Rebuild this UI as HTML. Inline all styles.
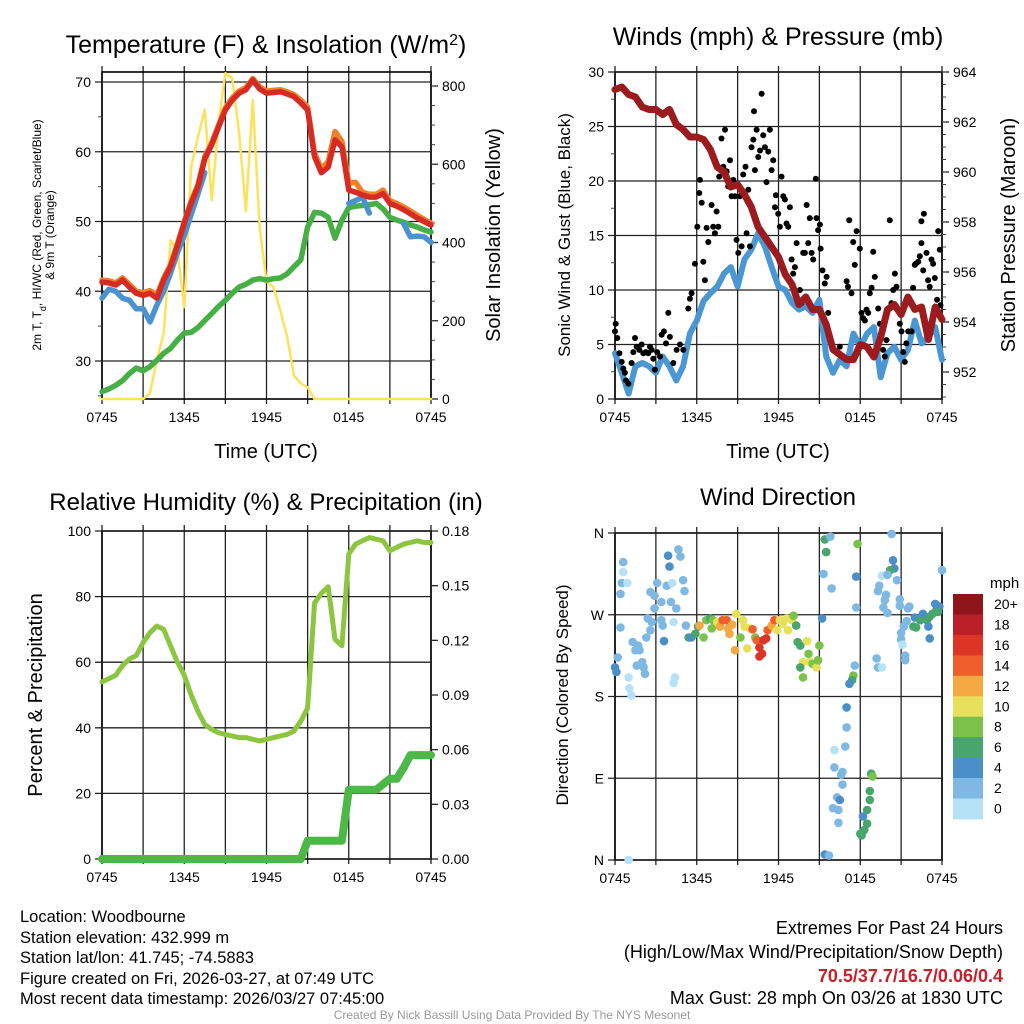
<!DOCTYPE html>
<html><head><meta charset="utf-8"><title>Woodbourne Meteogram</title>
<style>
html,body{margin:0;padding:0;background:#fff;}
svg{display:block;font-family:"Liberation Sans",Arial,sans-serif;}
</style></head>
<body>
<svg id="chart" width="1024" height="1024" viewBox="0 0 1024 1024" xmlns="http://www.w3.org/2000/svg">
<rect x="0" y="0" width="1024" height="1024" fill="#fff"/>
<text x="266" y="53" font-size="25" text-anchor="middle">Temperature (F) &amp; Insolation (W/m<tspan baseline-shift="super" font-size="16">2</tspan>)</text>
<text x="778" y="45" font-size="25" text-anchor="middle">Winds (mph) &amp; Pressure (mb)</text>
<text x="266" y="510" font-size="24" text-anchor="middle">Relative Humidity (%) &amp; Precipitation (in)</text>
<text x="778" y="505" font-size="24" text-anchor="middle">Wind Direction</text>

<text x="266" y="458" font-size="20" text-anchor="middle">Time (UTC)</text>
<text x="778" y="458" font-size="20" text-anchor="middle">Time (UTC)</text>

<text transform="translate(41,235) rotate(-90)" font-size="12" text-anchor="middle">2m T, T<tspan baseline-shift="sub" font-size="9">d</tspan>, HI/WC (Red, Green, Scarlet/Blue)</text>
<text transform="translate(54,235) rotate(-90)" font-size="12" text-anchor="middle">&amp; 9m T (Orange)</text>
<text transform="translate(500,235) rotate(-90)" font-size="20" text-anchor="middle">Solar Insolation (Yellow)</text>
<text transform="translate(570,235) rotate(-90)" font-size="17" text-anchor="middle">Sonic Wind &amp; Gust (Blue, Black)</text>
<text transform="translate(1015,235) rotate(-90)" font-size="20" text-anchor="middle">Station Pressure (Maroon)</text>
<text transform="translate(42,695) rotate(-90)" font-size="20" text-anchor="middle">Percent &amp; Precipitation</text>
<text transform="translate(568,695) rotate(-90)" font-size="17" text-anchor="middle">Direction (Colored By Speed)</text>

<g font-size="16.5">
<text x="20" y="922">Location: Woodbourne</text>
<text x="20" y="943">Station elevation: 432.999 m</text>
<text x="20" y="963">Station lat/lon: 41.745; -74.5883</text>
<text x="20" y="984">Figure created on Fri, 2026-03-27, at 07:49 UTC</text>
<text x="20" y="1004">Most recent data timestamp: 2026/03/27 07:45:00</text>
</g>
<g font-size="18" text-anchor="end">
<text x="1003" y="934">Extremes For Past 24 Hours</text>
<text x="1003" y="958">(High/Low/Max Wind/Precipitation/Snow Depth)</text>
<text x="1003" y="982" fill="#c8202a" font-weight="bold">70.5/37.7/16.7/0.06/0.4</text>
<text x="1003" y="1004">Max Gust: 28 mph On 03/26 at 1830 UTC</text>
</g>
<text x="512" y="1019" font-size="12" fill="#999" text-anchor="middle">Created By Nick Bassill Using Data Provided By The NYS Mesonet</text>
<g id="plots"></g>
</svg>
<script>
// ---- Data (half-hour steps from 0745 UTC, 0..24 h) ----
const xTickLabels = ["0745","1345","1945","0145","0745"];
const tempRed = [41.3,41.2,40.9,41.6,40.6,39.7,39.4,39.7,39.0,41.6,43.5,46.5,49.8,52.6,55,59,61,63.5,66,67.4,68.4,68.9,70.3,69,68.4,68.5,68.6,68.3,67.9,67,66,59.3,57,57.8,61.7,60.7,54.5,54.2,53.8,53.5,53.5,54,52.6,52.2,51.7,51.1,50.5,50,49.5];
const tempOrange = [41.6,41.5,41.2,41.9,41.0,40.0,39.8,40.1,39.4,41.9,43.8,46.8,50.0,52.9,55.3,59.3,61.3,63.8,66.3,67.7,68.7,69.2,70.5,69.3,68.7,68.8,68.9,68.6,68.2,67.4,66.4,59.8,57.6,58.6,62.9,61.5,55.5,55.6,54.2,53.9,53.9,54.5,53.0,52.6,52.1,51.5,50.9,50.3,49.8];
const tempBlue = [39,40.3,40,39,38.7,37.5,37.5,35.6,38,40,42.6,45.5,48,51,54,57,null,null,null,null,null,null,null,null,null,null,null,null,null,null,null,null,null,null,null,null,52.6,53,53.5,51.2,null,null,null,null,49.7,47.8,47.9,47.8,47];
const dewGreen = [25.6,26.0,26.5,27.2,28.2,29.0,28.6,29.2,30.1,31.1,31.8,33.0,34.0,34.1,34.8,35.8,36.8,37.8,38.7,39.7,40.6,41.0,41.6,41.8,41.6,41.8,41.9,42.5,43.5,44.5,49.2,51.3,51.2,50.6,47.6,50.2,52.0,52.2,52.3,52.4,52.6,51.8,50.6,50.2,49.9,49.5,49.2,48.8,48.5];
const solar = [0,0,0,0,0,0,0,15,100,168,406,380,235,593,670,740,508,705,833,820,680,480,764,440,300,286,228,160,60,40,30,0,0,0,0,0,0,0,0,0,0,0,0,0,0,0,0,0,0];
const windSpeed = [4.2,2.4,0.5,3,3.3,3,2.4,3.9,3,1.7,3,6,7.2,9,9.7,10.3,11.5,12.1,10.3,12.8,13.7,15.2,14,12.1,10.3,10,8.8,8.2,8.5,7.9,9.1,3.9,2.4,3.6,3,6,4.8,6,6.6,2,4.2,4.8,3.6,4.5,7.2,5.1,5.7,6.6,3.6];
const pressure = [963.3,963.4,963.1,963.0,962.6,962.5,962.5,962.3,962.5,961.9,961.7,961.4,961.4,961.3,960.9,960.2,960.0,959.4,959.5,959.1,958.6,957.8,957.4,957.0,956.6,955.9,955.5,954.7,955.0,954.5,954.5,953.9,952.9,952.7,952.5,952.5,953.1,953.0,952.6,953.4,954.5,954.7,954.3,955.0,954.5,954.6,953.3,954.6,954.1];
const gustHours = [0,0.05,0.17,0.32,0.49,0.61,0.73,0.81,0.98,1.22,1.34,1.47,1.59,1.78,1.96,2.08,2.27,2.44,2.57,2.69,2.81,2.93,3.1,3.3,3.42,3.59,3.74,3.91,4.03,4.28,4.52,4.77,5.01,5.38,5.5,5.62,5.87,6.04,6.19,6.23,6.36,6.48,6.6,6.72,6.85,7.09,7.21,7.33,7.46,7.58,7.65,7.82,7.95,8.07,8.19,8.31,8.44,8.56,8.68,8.8,8.92,9.05,9.17,9.29,9.41,9.58,9.66,9.78,9.9,10.02,10.15,10.2,10.27,10.39,10.51,10.64,10.76,10.88,11.0,11.12,11.25,11.37,11.49,11.61,11.74,11.81,11.98,12.1,12.22,12.35,12.47,12.59,12.71,12.84,12.96,13.08,13.2,13.33,13.57,13.69,13.81,13.94,14.06,14.18,14.3,14.43,14.55,14.74,14.79,14.91,15.04,15.09,15.23,15.4,15.53,15.65,16.5,17.0,17.1,17.19,17.36,17.48,17.6,17.73,17.97,18.09,18.22,18.34,18.46,18.58,18.7,18.83,18.95,19.07,19.32,19.44,19.68,19.8,19.93,20.17,20.29,20.42,20.54,20.66,20.9,21.03,21.15,21.27,21.39,21.52,21.76,21.88,22.0,22.08,22.25,22.37,22.49,22.49,22.62,22.67,22.86,22.98,23.1,23.23,23.35,23.47,23.64,23.72,23.84,23.89];
const gustMph = [6.2,6.9,5.6,4.2,3.4,2.8,2.4,1.7,1.4,3.3,4.3,5.6,4.8,4.5,5.0,4.2,4.3,4.2,4.8,4.5,3.7,2.7,4.3,3.9,5.9,6.2,5.1,7.9,5.7,3.3,4.5,5.0,4.5,8.3,9.2,9.7,12.4,15.8,18.9,20.1,18.0,12.6,10.9,15.7,14.4,17.8,15.8,15.2,17.2,15.8,20.4,23.9,21.3,24.7,20.9,19.5,21.9,18.6,20.1,18.6,14.6,13.4,18.6,14.0,20.6,21.3,15.2,19.2,14.0,23.1,23.8,26.4,21.0,24.7,22.2,22.8,28.0,24.2,23.1,19.9,22.7,24.7,21.0,21.9,17.6,18.7,17.0,15.8,20.4,18.6,18.3,16.1,15.8,17.6,12.8,11.5,12.1,14.3,10.0,8.8,13.4,13.4,17.8,14.3,16.6,13.4,12.8,20.2,16.6,15.5,16.0,13.8,11.8,10.6,11.2,7.9,4.8,10.8,10.3,16.4,9.7,14.4,12.3,15.4,13.8,7.9,7.4,7.2,8.2,7.9,9.7,10.2,13.5,11.2,8.3,6.9,4.5,3.9,5.4,16.4,8.8,10.0,11.5,10.3,6.9,6.2,4.3,3.4,5.1,6.2,6.2,10.2,12.3,12.4,12.6,13.1,16.3,14.3,11.8,17.0,13.4,10.9,10.3,12.8,12.4,11.1,9.1,15.4,13.7,8.6];
const relHum = [54,55,56,59,61,62,66,69,71,70,65,60,56,50,45,41,39.5,38.5,38,37.5,37,37,36.5,36,36.5,37,37.5,38,39,42,46,78,81,83,67,65,93,96,97,98,97.5,97,94,95,96,96.5,97,96.5,96.5];
const precip = [0,0,0,0,0,0,0,0,0,0,0,0,0,0,0,0,0,0,0,0,0,0,0,0,0,0,0,0,0,0,0.01,0.01,0.01,0.01,0.01,0.01,0.038,0.038,0.038,0.038,0.038,0.041,0.044,0.044,0.05,0.057,0.057,0.057,0.057];
// wind direction observations: [hour, degrees, mph]
const dirObs = [[0.0,212,5],[0.1,207,5],[0.2,223,3],[0.4,256,3],[0.6,328,3],[0.6,317,1],[0.5,305,3],[0.9,305,1],[0.4,293,3],[1.0,201,1],[1.05,189,1],[1.2,181,1],[1.0,0,1],[1.3,240,3],[1.7,236,3],[1.8,231,3],[1.5,231,3],[1.6,214,3],[2.0,218,3],[2.2,205,3],[2.1,212,3],[2.3,245,3],[2.6,253,3],[2.4,266,3],[2.7,262,3],[2.9,277,3],[2.6,295,3],[2.9,291,3],[3.1,305,3],[3.4,284,3],[3.4,264,3],[3.5,258,3],[3.6,241,5],[3.9,335,5],[4.0,323,5],[3.8,302,3],[4.1,284,3],[4.2,305,1],[4.3,262,1],[4.4,201,1],[4.3,195,1],[4.65,342,3],[4.8,334,3],[5.0,308,3],[5.1,296,3],[4.5,277,3],[5.2,258,3],
[5.4,245,7],[5.6,245,5],[5.9,249,7],[6.1,257,7],[6.2,258,13],[6.5,245,9],[6.7,264,9],[7.0,266,7],[7.2,264,9],[7.1,255,9],[7.5,262,11],[7.7,257,13],[7.9,264,15],[8.2,264,15],[8.3,255,13],[8.6,259,13],[8.4,249,13],[8.8,231,13],[8.9,271,11],[9.2,245,9],[9.4,264,11],[9.7,233,11],[9.5,257,11],[9.9,255,11],[10.1,254,15],[10.3,245,9],[10.4,242,15],[10.6,234,17],[10.9,242,17],[11.1,244,17],[10.8,227,17],[10.6,224,17],[11.2,253,15],[11.5,258,13],[11.7,264,15],[11.9,253,11],[12.1,264,11],[12.3,260,11],[12.6,266,11],[12.7,253,11],[13.0,264,11],[13.1,269,9],[13.3,258,7],[13.4,240,7],[13.6,236,7],[14.1,241,11],[13.8,218,11],[14.2,227,9],[14.3,218,11],[14.5,216,9],[14.8,212,11],[14.9,220,9],[15.0,236,9],[13.6,212,7],[13.8,201,9],
[15.4,353,7],[15.8,356,3],[15.5,339,7],[15.3,315,3],[15.9,299,3],[15.2,266,5],[17.7,312,5],[17.8,348,9],[17.7,278,3],[17.6,214,3],[17.5,203,9],[17.4,198,7],[17.2,194,5],[17.0,168,5],[17.0,146,3],[16.9,125,3],[16.1,121,1],[16.1,102,3],[16.7,97,3],[16.6,94,3],[16.7,83,3],[16.3,69,3],[16.5,66,5],[16.0,57,3],[16.4,55,3],[16.4,41,3],[15.4,6,5],[15.7,5,3],[18.8,95,7],[18.9,92,9],[18.7,76,7],[18.7,66,7],[18.5,55,7],[18.2,48,5],[18.5,40,7],[18.3,33,7],[18.1,27,7],[18.0,29,7],
[20.3,359,3],[20.4,330,5],[20.5,321,5],[20.2,319,7],[19.6,313,1],[20.0,314,3],[20.7,308,3],[19.4,302,3],[19.3,296,3],[19.9,292,3],[19.8,286,3],[20.9,287,3],[19.7,278,3],[20.0,272,3],[20.9,280,3],[21.6,279,3],[21.5,277,3],[22.0,267,5],[21.4,263,3],[21.2,257,3],[21.0,250,3],[21.0,243,3],[21.1,237,1],[21.3,225,3],[21.3,220,3],[19.2,222,3],[19.3,212,3],[19.6,212,1],[21.9,257,7],[22.1,256,7],[22.4,264,7],[22.6,271,5],[22.9,264,7],[23.1,268,7],[23.0,257,5],[23.1,244,5],[23.3,271,7],[23.6,275,7],[23.5,282,5],[23.8,279,5],[24.0,319,3],[23.7,273,7]];
const speedBins = ["20+","18","16","14","12","10","8","6","4","2","0"];
const speedColors = ["#8e1519","#bb1f27","#dc3526","#ef5f2c","#f5a942","#e6e05a","#7bc24a","#48a56e","#4a8fc7","#7fb8e3","#b5e2f7"];

const NS = "http://www.w3.org/2000/svg";
const root = document.getElementById("plots");
function mk(tag, attrs, parent){
  const e = document.createElementNS(NS, tag);
  for (const k in attrs) e.setAttribute(k, attrs[k]);
  (parent || root).appendChild(e);
  return e;
}
function scale(d0,d1,r0,r1){ return v => r0 + (v-d0)*(r1-r0)/(d1-d0); }

function panelFrame(p, name){
  const g = mk("g", {});
  
  
  for (let h=0; h<=24; h+=3){
    const x = p.x(h);
    const l = mk("line",{x1:x,x2:x,y1:p.y0-6,y2:p.y1+5,stroke:"#222","stroke-width":1.3},g);
    
    
  }
  for (let i=0;i<xTickLabels.length;i++){
    const t = mk("text",{x:p.x(i*6),y:p.y1+23,"font-size":14,"text-anchor":"middle"},g);
    t.textContent = xTickLabels[i];
    
    
  }
  const fr = mk("rect",{x:p.x0,y:p.y0,width:p.x1-p.x0,height:p.y1-p.y0,fill:"none",stroke:"#000","stroke-width":1.6},g);
  
  
  return g;
}
function leftAxis(p, ticks, fmt, minor, name){
  const g = mk("g",{});
  
  
  for (const v of ticks){
    const y = p.yl(v);
    const l = mk("line",{x1:p.x0-7,x2:p.x1,y1:y,y2:y,stroke:"#222","stroke-width":1.3},g);
    
    
    const t = mk("text",{x:p.x0-11,y:y+5,"font-size":14,"text-anchor":"end"},g);
    t.textContent = fmt(v);
    
    
  }
  if (minor) for (const v of minor){
    const y = p.yl(v);
    mk("line",{x1:p.x0-4,x2:p.x0,y1:y,y2:y,stroke:"#444","stroke-width":1},g);
  }
}
function rightAxis(p, ticks, fmt, minor, name){
  const g = mk("g",{});
  
  
  for (const v of ticks){
    const y = p.yr(v);
    mk("line",{x1:p.x1,x2:p.x1+7,y1:y,y2:y,stroke:"#222","stroke-width":1.3},g);
    const t = mk("text",{x:p.x1+11,y:y+5,"font-size":14},g);
    t.textContent = fmt(v);
    
    
  }
  if (minor) for (const v of minor){
    const y = p.yr(v);
    mk("line",{x1:p.x1,x2:p.x1+4,y1:y,y2:y,stroke:"#444","stroke-width":1},g);
  }
}
function seriesPath(p, arr, yf, color, w, name, step){
  let d = "", pen = false;
  arr.forEach((v,i)=>{
    if (v === null || v === undefined){ pen=false; return; }
    const x = p.x(i*(step||0.5)), y = yf(v);
    d += (pen ? "L" : "M") + x.toFixed(1) + " " + y.toFixed(1) + " ";
    pen = true;
  });
  const e = mk("path",{d:d,fill:"none",stroke:color,"stroke-width":w,"stroke-linejoin":"round","stroke-linecap":"round"});
  
  
  return e;
}
function range(a,b,s){ const r=[]; for(let v=a; v<=b+1e-9; v+=s) r.push(+v.toFixed(4)); return r; }

// ---- Panel 1: temperature ----
const p1 = {x0:102,x1:431,y0:72,y1:399};
p1.x = scale(0,24,p1.x0,p1.x1);
p1.yl = scale(30,70,361,82);
p1.yr = scale(0,800,399,86);
panelFrame(p1,"temperature-panel");
leftAxis(p1,[30,40,50,60,70],v=>String(v),[25,35,45,55,65],"temperature-left-axis");
rightAxis(p1,[0,200,400,600,800],v=>String(v),range(50,800,50),"insolation-right-axis");
seriesPath(p1, solar, p1.yr, "#fde25a", 2.5, "solar-insolation-line");
seriesPath(p1, dewGreen, p1.yl, "#46b046", 5.5, "dewpoint-line");
seriesPath(p1, tempOrange, p1.yl, "#f0802a", 5.5, "9m-temperature-line");
seriesPath(p1, tempBlue, p1.yl, "#4b92d0", 5.5, "wind-chill-line");
seriesPath(p1, tempRed, p1.yl, "#d62a24", 5.5, "2m-temperature-line");

// ---- Panel 2: winds & pressure ----
const p2 = {x0:615,x1:942,y0:72,y1:399};
p2.x = scale(0,24,p2.x0,p2.x1);
p2.yl = scale(0,30,399,72);
p2.yr = scale(952,964,372,72);
panelFrame(p2,"winds-panel");
leftAxis(p2,[0,5,10,15,20,25,30],v=>String(v),range(2.5,27.5,5),"wind-left-axis");
rightAxis(p2,[952,954,956,958,960,962,964],v=>String(v),range(951,964,0.5),"pressure-right-axis");
seriesPath(p2, windSpeed, p2.yl, "#4b97d3", 6, "sonic-wind-line");
const gg = mk("g",{});


gustHours.forEach((h,i)=>{
  const c = mk("circle",{cx:p2.x(h).toFixed(1),cy:p2.yl(gustMph[i]).toFixed(1),r:3,fill:"#000"},gg);
  
  
});
seriesPath(p2, pressure, p2.yr, "#9b1b1e", 7, "pressure-line");

// ---- Panel 3: RH & precip ----
const p3 = {x0:102,x1:431,y0:531,y1:859};
p3.x = scale(0,24,p3.x0,p3.x1);
p3.yl = scale(0,100,859,531);
p3.yr = scale(0,0.18,859,531);
panelFrame(p3,"humidity-panel");
leftAxis(p3,[0,20,40,60,80,100],v=>String(v),null,"humidity-left-axis");
rightAxis(p3,[0,0.03,0.06,0.09,0.12,0.15,0.18],v=>v.toFixed(2),null,"precip-right-axis");
seriesPath(p3, relHum, p3.yl, "#8cc640", 5, "relative-humidity-line");
seriesPath(p3, precip, p3.yr, "#4cb848", 8, "precipitation-line");

// ---- Panel 4: wind direction ----
const p4 = {x0:615,x1:942,y0:533,y1:860};
p4.x = scale(0,24,p4.x0,p4.x1);
p4.yl = scale(0,360,860,533);
panelFrame(p4,"direction-panel");
const dirLabels = ["N","E","S","W","N"];
leftAxis(p4,[0,90,180,270,360],v=>dirLabels[v/90],null,"direction-left-axis");
function speedColor(s){
  const idx = Math.min(10, Math.max(0, 10 - Math.floor(s/2)));
  return speedColors[idx];
}
const dg = mk("g",{});


dirObs.forEach(o=>{
  const c = mk("circle",{cx:p4.x(o[0]).toFixed(1),cy:p4.yl(o[1]).toFixed(1),r:4.3,fill:speedColor(o[2])},dg);
  
  
});

// colorbar
const cb = mk("g",{});


const cbTitle = mk("text",{x:990,y:588,"font-size":15},cb);
cbTitle.textContent = "mph";
speedBins.forEach((lab,i)=>{
  const y = 594 + i*20.45;
  const r = mk("rect",{x:953,y:y.toFixed(1),width:30,height:20.9,fill:speedColors[i]},cb);
  
  
  const t = mk("text",{x:994,y:(y+15).toFixed(1),"font-size":14},cb);
  t.textContent = lab;
  
  
});
</script>
</body></html>
